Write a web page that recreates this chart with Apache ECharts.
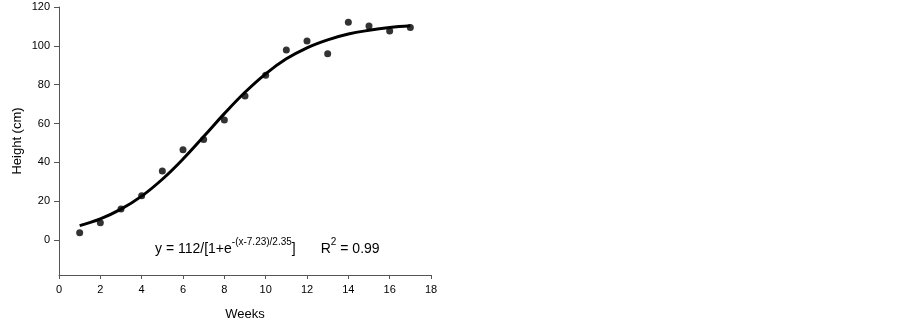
<!DOCTYPE html>
<html>
<head>
<meta charset="utf-8">
<script src="https://cdn.jsdelivr.net/npm/echarts@6/dist/echarts.min.js"></script>
<style>html,body{margin:0;padding:0;background:#fff}#c{width:903px;height:319px}</style>
</head>
<body>
<div id="c"></div>
<script>
const weeks = [1,2,3,4,5,6,7,8,9,10,11,12,13,14,15,16,17];
const heights = [3.8,8.9,16.0,22.8,35.5,46.5,51.8,61.8,74.2,84.8,97.8,102.5,95.9,112.1,110.2,107.6,109.5];
const fitted = [7.4,10.9,15.9,22.6,31.3,41.7,53.3,65.1,76.1,85.6,93.3,99.0,103.1,106.1,108.0,109.4,110.3];
const yTicks = [0,20,40,60,80,100,120];

const font = "'Liberation Sans', Arial, sans-serif";
const chart = echarts.init(document.getElementById('c'));
chart.setOption({
  animation: false,
  grid: {left: 59, right: 472, top: 7, bottom: 44, outerBoundsMode: 'none', containLabel: false},
  xAxis: {
    type: 'value', min: 0, max: 18, interval: 2,
    name: 'Weeks', nameLocation: 'middle', nameGap: 33, nameMoveOverlap: false,
    nameTextStyle: {fontFamily: font, fontSize: 13, color: '#000'},
    axisLine: {onZero: false, lineStyle: {color: '#555', width: 1}},
    axisTick: {length: 4, lineStyle: {color: '#555'}},
    axisLabel: {fontFamily: font, fontSize: 11, color: '#000', margin: 9},
    splitLine: {show: false}
  },
  yAxis: {
    type: 'value', min: -18, max: 120,
    name: 'Height (cm)', nameLocation: 'middle', nameGap: 35, nameMoveOverlap: false,
    nameTextStyle: {fontFamily: font, fontSize: 13, color: '#000'},
    axisLine: {show: true, onZero: false, lineStyle: {color: '#555', width: 1}},
    axisTick: {show: true, length: 5, customValues: yTicks, lineStyle: {color: '#555'}},
    axisLabel: {fontFamily: font, fontSize: 11, color: '#000', margin: 9, customValues: yTicks},
    splitLine: {show: false}
  },
  series: [
    {
      type: 'line',
      data: weeks.map((w, i) => [w, fitted[i]]),
      smooth: 0.4,
      showSymbol: false,
      lineStyle: {color: '#000', width: 3},
      z: 2
    },
    {
      type: 'scatter',
      data: weeks.map((w, i) => [w, heights[i]]),
      symbolSize: 7,
      itemStyle: {color: '#000'},
      z: 3
    }
  ],
  graphic: [{
    type: 'text',
    left: 155, top: 237,
    style: {
      text: '{n|y = 112/[1+e}{s|-(x-7.23)/2.35}{n|]}{g|}{n|R}{s|2}{n| = 0.99}',
      rich: {
        n: {fontFamily: font, fontSize: 14, color: '#000', lineHeight: 19, verticalAlign: 'bottom'},
        s: {fontFamily: font, fontSize: 10, color: '#000', lineHeight: 10, verticalAlign: 'top'},
        g: {width: 25}
      }
    }
  }]
});
</script>
</body>
</html>
